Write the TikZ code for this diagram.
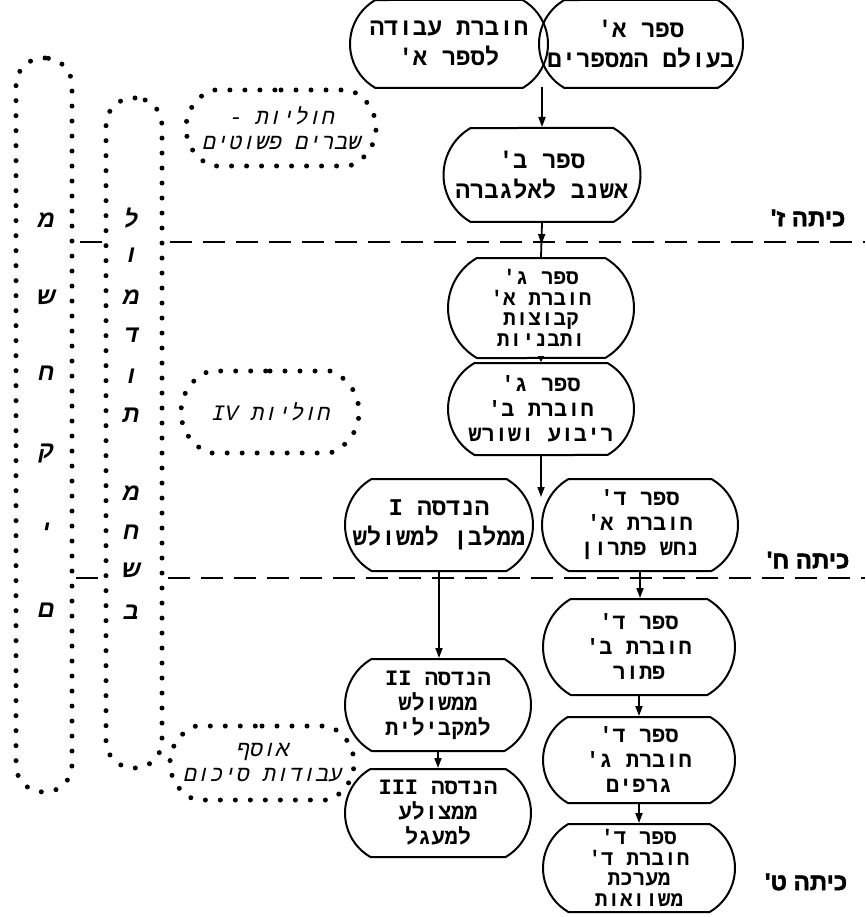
\documentclass[tikz,border=0pt]{standalone}
\usepackage{fontspec}
\usetikzlibrary{shapes.misc,arrows.meta,decorations.markings}
\TeXXeTstate=1
\newfontfamily\hebtt[Script=Hebrew]{Liberation Mono}
\newfontfamily\hebttit[Script=Hebrew,FakeSlant=0.22]{Liberation Mono}
\newfontfamily\hebsfb[Script=Hebrew,FakeBold=2]{Liberation Sans Bold}
\newfontfamily\hebit[Script=Hebrew,FakeSlant=0.2]{Liberation Sans}
\newcommand{\RL}[1]{\beginR #1\endR}
\tikzset{
  bkbase/.style={draw, line width=2pt, rounded rectangle, rounded rectangle arc length=120,
    inner sep=0pt, align=center},
  bktwo/.style={bkbase, font=\hebtt\bfseries\fontsize{24}{30}\selectfont},
  bkthree/.style={bkbase, font=\hebtt\bfseries\fontsize{22}{25}\selectfont},
  bkfour/.style={bkbase, font=\hebtt\bfseries\fontsize{21}{20.5}\selectfont},
  dotline/.style={line width=5pt, line cap=round, dash pattern=on 0pt off 15pt},
  dotbox/.style={draw, dotline, rounded rectangle, rounded rectangle arc length=140,
    inner sep=0pt, align=center, font=\hebttit\fontsize{22}{25}\selectfont},
  conn/.style={line width=1.8pt},
  arr/.style={conn, -{Triangle[length=10pt,width=7pt]}},
  sarr/.style={conn, -{Triangle[length=6pt,width=6pt]}},
  midarr/.style={conn, postaction={decorate}, decoration={markings,
    mark=at position #1 with {\arrow{Triangle[length=10pt,width=7pt]}}}},
  sepline/.style={line width=1.6pt, dash pattern=on 22pt off 11pt},
  cls/.style={font=\hebsfb\fontsize{24}{28}\selectfont},
  vlet/.style={font=\hebit\bfseries\fontsize{24}{26}\selectfont, inner sep=0pt},
  vstad/.style={draw, dotline, rounded corners=27pt}
}
\begin{document}
\begin{tikzpicture}[x=1pt,y=-1pt]
\useasboundingbox (0,0) rectangle (865,917);
\fill[white] (0,0) rectangle (865,917);

% separator lines
\draw[sepline] (80,242) -- (102,242);
\draw[sepline] (170,242) -- (865,242);
\draw[sepline] (76,578) -- (100,578);
\draw[sepline] (168,578) -- (865,578);

% class labels
\node[cls] (k7) at (808,218) {\RL{כיתה ז'}};
\node[cls] (k8) at (808,560) {\RL{כיתה ח'}};
\node[cls] (k9) at (806,882) {\RL{כיתה ט'}};

% boxes
\node[bktwo, minimum width=198, minimum height=88] (b1) at (449,44) {\RL{חוברת עבודה}\\\RL{לספר א'}};
\node[bktwo, minimum width=204, minimum height=88] (b2) at (641,44) {\RL{ספר א'}\\\RL{בעולם המספרים}};
\node[bktwo, minimum width=197, minimum height=94] (b3) at (542,175) {\RL{ספר ב'}\\\RL{אשנב לאלגברה}};
\node[bkfour, minimum width=186, minimum height=100] (b4) at (541,308) {\RL{ספר ג'}\\\RL{חוברת א'}\\\RL{קבוצות}\\\RL{ותבניות}};
\node[bkthree, minimum width=186, minimum height=92] (b5) at (541,409) {\RL{ספר ג'}\\\RL{חוברת ב'}\\\RL{ריבוע ושורש}};
\node[bktwo, minimum width=188, minimum height=92] (b6) at (439,525) {\RL{הנדסה I}\\\RL{ממלבן למשולש}};
\node[bkthree, minimum width=196, minimum height=92] (b7) at (640,525) {\RL{ספר ד'}\\\RL{חוברת א'}\\\RL{נחש פתרון}};
\node[bkthree, minimum width=192, minimum height=96] (b8) at (639,647) {\RL{ספר ד'}\\\RL{חוברת ב'}\\\RL{פתור}};
\node[bkthree, minimum width=186, minimum height=92] (b9) at (438,705) {\RL{הנדסה II}\\\RL{ממשולש}\\\RL{למקבילית}};
\node[bkthree, minimum width=192, minimum height=86] (b10) at (639,760) {\RL{ספר ד'}\\\RL{חוברת ג'}\\\RL{גרפים}};
\node[bkthree, minimum width=186, minimum height=88] (b11) at (438,813) {\RL{הנדסה III}\\\RL{ממצולע}\\\RL{למעגל}};
\node[bkfour, minimum width=192, minimum height=88] (b12) at (639,868) {\RL{ספר ד'}\\\RL{חוברת ד'}\\\RL{מערכת}\\\RL{משוואות}};

% connectors
\coordinate (j) at (542,87);
\coordinate (e5) at (541,497);
\draw[arr] (j) -- (b3.north);
\draw[midarr=0.62] (b3.south) -- (b4.north);
\draw[sarr] (b4.south) -- (b5.north);
\draw[arr] (b5.south) -- (e5);
\draw[arr] (b6.south) -- (b6.south |- b9.north);
\draw[arr] (b7.south) -- (b7.south |- b8.north);
\draw[arr] (b8.south) -- (b10.north);
\draw[arr] (b10.south) -- (b12.north);
\draw[arr] (b9.south) -- (b11.north);

% dotted groups
\node[dotbox, minimum width=190, minimum height=76] (dA) at (281,128) {\RL{חוליות -}\\\RL{שברים פשוטים}};
\node[dotbox, minimum width=178, minimum height=82] (dB) at (270,412) {\RL{חוליות \beginL IV\endL}};
\node[dotbox, minimum width=184, minimum height=74] (dC) at (262,763) {\RL{אוסף}\\\RL{עבודות סיכום}};

% vertical stadiums
\node[vstad, minimum width=56, minimum height=734] (games) at (44,425) {};
\node[vstad, minimum width=56, minimum height=670] (cware) at (134,433) {};

\node[vlet] (g1) at (45,220) {מ};
\node[vlet] (g2) at (45,297) {ש};
\node[vlet] (g3) at (45,373) {ח};
\node[vlet] (g4) at (45,453) {ק};
\node[vlet] (g5) at (45,530) {י};
\node[vlet] (g6) at (45,610) {ם};

\node[vlet] (c1) at (130,218) {ל};
\node[vlet] (c2) at (130,255) {ו};
\node[vlet] (c3) at (130,297) {מ};
\node[vlet] (c4) at (130,335) {ד};
\node[vlet] (c5) at (130,376) {ו};
\node[vlet] (c6) at (130,415) {ת};
\node[vlet] (c7) at (130,493) {מ};
\node[vlet] (c8) at (130,532) {ח};
\node[vlet] (c9) at (130,570) {ש};
\node[vlet] (c10) at (130,612) {ב};
\end{tikzpicture}
\end{document}
